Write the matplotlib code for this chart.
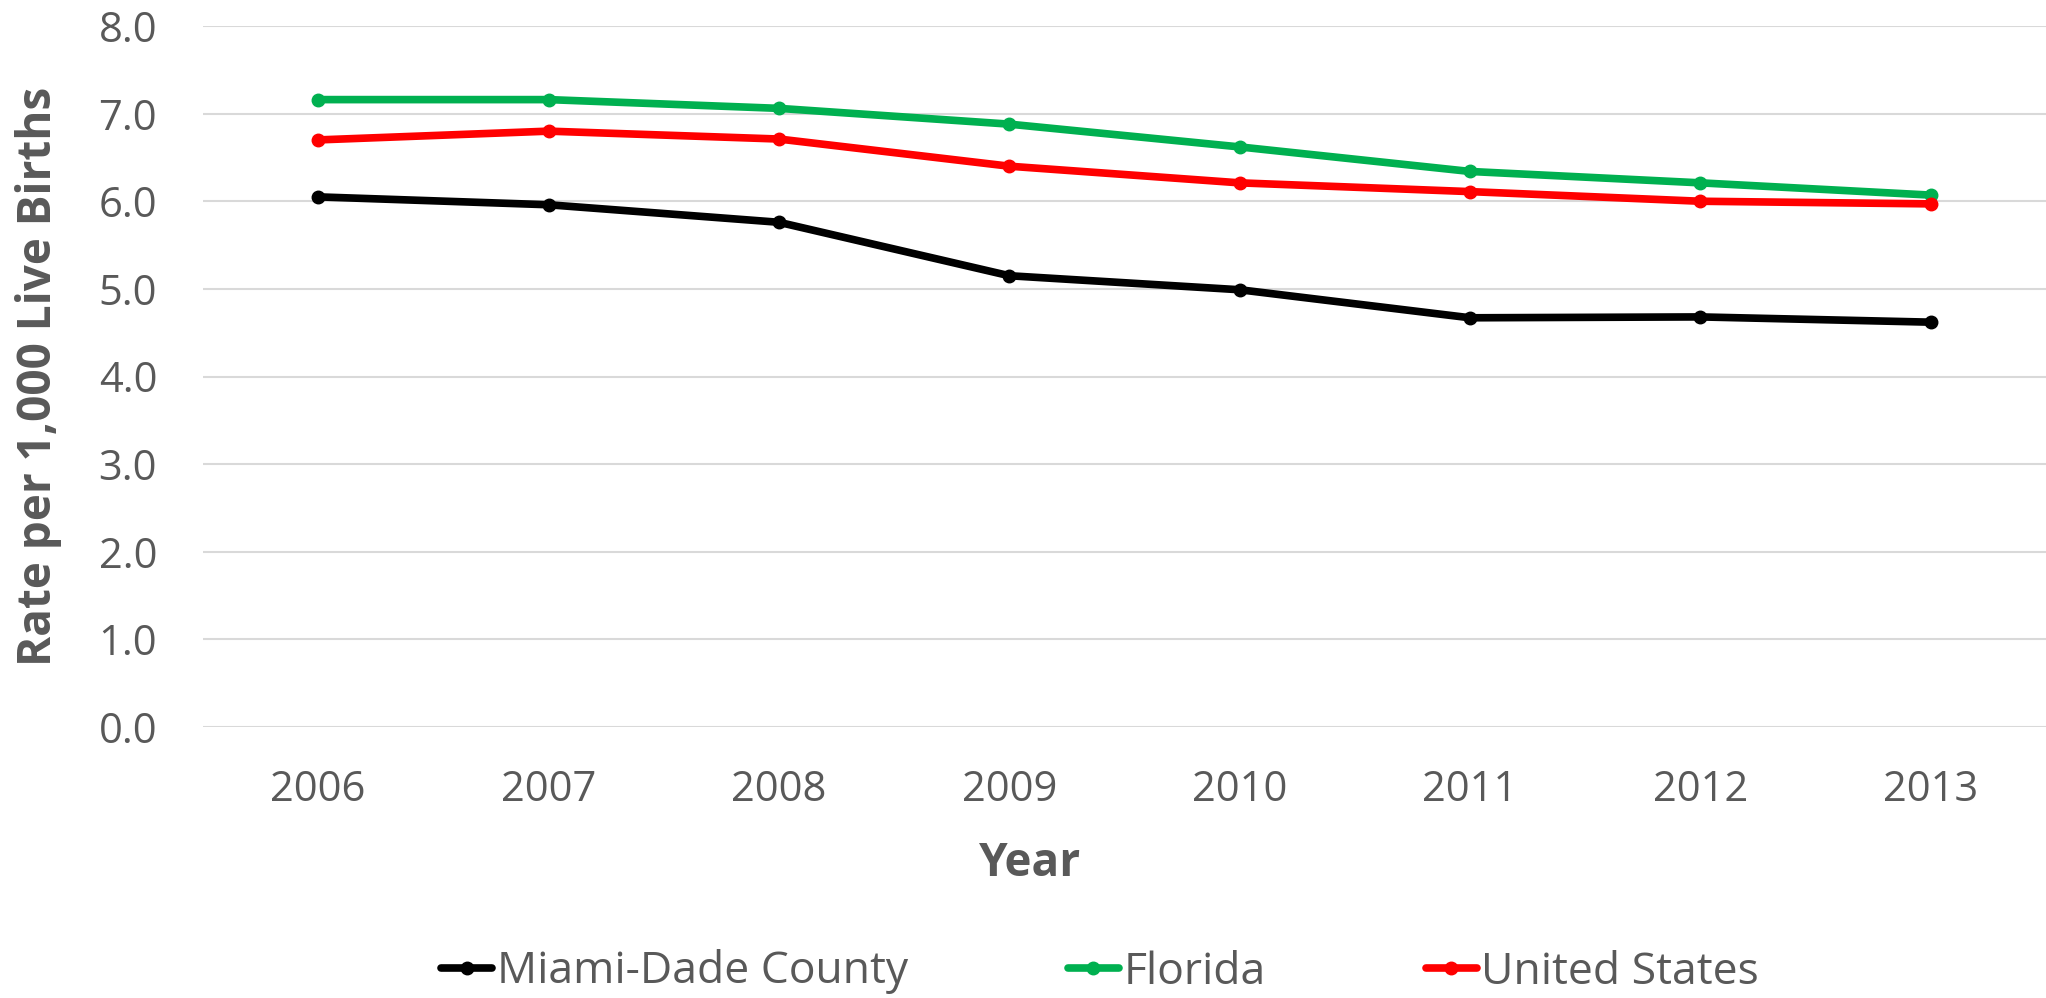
import matplotlib
matplotlib.use("Agg")
import matplotlib.pyplot as plt

years = ["2006", "2007", "2008", "2009", "2010", "2011", "2012", "2013"]
miami = [6.05, 5.96, 5.76, 5.15, 4.99, 4.67, 4.68, 4.62]
florida = [7.16, 7.16, 7.06, 6.88, 6.62, 6.34, 6.21, 6.07]
us = [6.70, 6.80, 6.71, 6.40, 6.21, 6.11, 6.00, 5.97]
series_names = ["Miami-Dade County", "Florida", "United States"]
yticks = [0.0, 1.0, 2.0, 3.0, 4.0, 5.0, 6.0, 7.0, 8.0]

plt.rcParams['font.family'] = ['Open Sans', 'DejaVu Sans']
TXT = "#595959"

W, H = 2046, 998
fig = plt.figure(figsize=(W / 100, H / 100), dpi=100)
ax = fig.add_axes([203 / W, 1 - 727 / H, (2046 - 203) / W, (727 - 26) / H])

x = list(range(len(years)))
colors = ["#000000", "#00B050", "#FF0000"]
for vals, name, c in zip([miami, florida, us], series_names, colors):
    ax.plot(x, vals, color=c, lw=5.5, marker='o', ms=9, label=name,
            solid_capstyle='round', zorder=3)

ax.set_xlim(-0.5, len(years) - 0.5)
ax.set_ylim(0, 8)
ax.set_yticks(yticks)
ax.set_yticklabels([f"{v:.1f}" for v in yticks])
ax.set_xticks(x)
ax.set_xticklabels(years)
ax.grid(axis='y', color='#D9D9D9', lw=1.5)
ax.set_axisbelow(True)
for s in ax.spines.values():
    s.set_visible(False)
ax.tick_params(axis='both', length=0, labelsize=30, labelcolor=TXT)
ax.tick_params(axis='y', pad=33)
ax.tick_params(axis='x', pad=30)

fig.text(39 / W, 1 - 376 / H, "Rate per 1,000 Live Births", rotation=90,
         ha='center', va='center', fontsize=33, fontweight='bold', color=TXT)
fig.text(1030 / W, 1 - 864 / H, "Year", ha='center', va='center',
         fontsize=33, fontweight='bold', color=TXT)

leg = fig.legend(loc='center', bbox_to_anchor=(1100 / W, 1 - 972 / H), ncol=3,
                 frameon=False, fontsize=32, handlelength=1.15, handletextpad=0.1,
                 columnspacing=3.6, labelcolor=TXT)

fig.savefig("out.png", dpi=100)
